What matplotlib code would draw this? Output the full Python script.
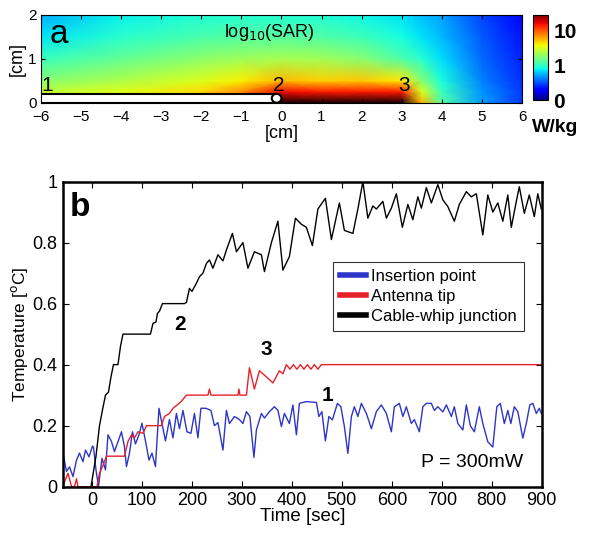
import numpy as np
import matplotlib
matplotlib.use("Agg")
import matplotlib.pyplot as plt
from matplotlib.patches import Rectangle, Ellipse

plt.rcParams['font.family'] = ['Liberation Sans', 'DejaVu Sans']

# ---- panel a: log10(SAR) map, coarse grid ----
map_x = [-6, -4, -2, -1, 0, 1, 2, 3, 3.5, 4, 5, 6]
map_y = [0, 0.25, 0.5, 1.0, 1.5, 2.0]
log_sar = [
    [0.46, 0.54, 0.71, 0.95, 1.56, 1.81, 1.81, 1.68, 0.76, 0.10, -0.32, -0.56],
    [0.42, 0.51, 0.65, 0.85, 1.20, 1.15, 1.15, 1.15, 0.50, 0.02, -0.34, -0.56],
    [0.25, 0.37, 0.50, 0.60, 0.74, 0.68, 0.70, 0.62, 0.25, -0.07, -0.39, -0.59],
    [0.02, 0.15, 0.27, 0.32, 0.35, 0.33, 0.25, 0.08, -0.03, -0.17, -0.44, -0.61],
    [-0.15, -0.02, 0.07, 0.10, 0.11, 0.09, 0.03, -0.08, -0.16, -0.25, -0.48, -0.65],
    [-0.28, -0.12, -0.05, -0.04, -0.04, -0.05, -0.10, -0.16, -0.24, -0.31, -0.53, -0.68],
]
cbar_ticks = [-1, 0, 1]
cbar_labels = ['0', '1', '10']

# ---- panel b: temperature traces ----
black_t = [-2, 8, 15, 22, 27, 33, 38, 43, 52, 57,
           62, 70, 85, 100, 117, 122, 128, 131, 135, 141,
           160, 185, 189, 195, 200, 209, 215, 222, 229, 235,
           242, 252, 262, 269, 281, 289, 302, 312, 325, 339,
           345, 359, 372, 382, 395, 407, 419, 429, 441, 452,
           467, 479, 495, 505, 522, 532, 542, 552, 562, 569,
           582, 589, 599, 609, 621, 632, 642, 652, 659, 669,
           679, 692, 702, 712, 725, 735, 749, 759, 769, 782,
           792, 802, 812, 822, 832, 839, 849, 855, 865, 875,
           885, 892, 899]
black_v = [0.0, 0.10, 0.20, 0.26, 0.30, 0.31, 0.36, 0.40, 0.40, 0.46,
           0.50, 0.50, 0.50, 0.50, 0.50, 0.535, 0.54, 0.568, 0.575, 0.60,
           0.60, 0.60, 0.604, 0.65, 0.64, 0.667, 0.688, 0.70, 0.732, 0.743,
           0.716, 0.76, 0.74, 0.776, 0.83, 0.77, 0.80, 0.716, 0.77, 0.76,
           0.705, 0.80, 0.87, 0.71, 0.754, 0.88, 0.86, 0.85, 0.79, 0.91,
           0.945, 0.81, 0.93, 0.84, 0.83, 0.91, 1.0, 0.88, 0.92, 0.91,
           0.935, 0.88, 0.913, 0.96, 0.85, 0.925, 0.875, 0.95, 0.913, 0.98,
           0.93, 0.99, 0.94, 0.918, 0.87, 0.925, 0.967, 0.95, 0.96, 0.825,
           0.956, 0.90, 0.93, 0.87, 0.956, 0.85, 0.935, 0.983, 0.896, 0.956,
           0.885, 0.96, 0.91]

red_t = [-58, -55, -48, -41, -35, -31, -28, 10, 15, 22,
         29, 65, 72, 79, 85, 92, 102, 109, 139, 145,
         155, 162, 172, 179, 189, 232, 235, 238, 292, 294,
         296, 309, 315, 325, 335, 349, 362, 375, 382, 389,
         396, 403, 410, 417, 424, 431, 438, 445, 452, 459,
         466, 900]
red_v = [0.0, 0.016, 0.044, 0.0, 0.0, 0.026, 0.0, 0.0, 0.044, 0.07,
         0.10, 0.10, 0.148, 0.17, 0.16, 0.18, 0.175, 0.20, 0.20, 0.23,
         0.24, 0.257, 0.27, 0.28, 0.30, 0.30, 0.32, 0.30, 0.30, 0.32,
         0.30, 0.30, 0.39, 0.32, 0.38, 0.36, 0.34, 0.38, 0.37, 0.40,
         0.385, 0.40, 0.385, 0.40, 0.385, 0.40, 0.385, 0.40, 0.385, 0.40,
         0.40, 0.40]

blue_t = [-58, -51, -45, -38, -31, -25, -18, -13, -6, 1,
          3, 8, 13, 20, 27, 32, 39, 45, 52, 59,
          65, 69, 75, 81, 87, 94, 100, 107, 114, 120,
          127, 134, 140, 147, 155, 162, 169, 175, 182, 190,
          198, 205, 212, 218, 228, 238, 245, 252, 262, 269,
          275, 285, 295, 302, 309, 316, 324, 329, 339, 345,
          355, 365, 372, 379, 385, 395, 402, 409, 415, 429,
          449, 454, 460, 467, 474, 481, 491, 498, 505, 512,
          519, 525, 532, 539, 549, 559, 569, 579, 589, 599,
          605, 615, 622, 629, 639, 645, 655, 662, 669, 679,
          685, 692, 702, 709, 719, 725, 732, 742, 749, 757,
          765, 775, 782, 792, 802, 810, 817, 825, 832, 838,
          845, 852, 862, 869, 876, 882, 889, 895, 899]
blue_v = [0.11, 0.05, 0.065, 0.033, 0.087, 0.11, 0.082, 0.12, 0.098, 0.133,
          0.13, 0.055, 0.0, 0.093, 0.055, 0.17, 0.148, 0.115, 0.148, 0.18,
          0.13, 0.066, 0.11, 0.18, 0.14, 0.17, 0.208, 0.15, 0.087, 0.11,
          0.066, 0.257, 0.208, 0.15, 0.22, 0.16, 0.24, 0.19, 0.25, 0.18,
          0.175, 0.24, 0.16, 0.257, 0.257, 0.25, 0.20, 0.21, 0.12, 0.25,
          0.207, 0.23, 0.22, 0.207, 0.246, 0.23, 0.096, 0.186, 0.24, 0.225,
          0.246, 0.262, 0.25, 0.197, 0.24, 0.207, 0.268, 0.17, 0.273, 0.279,
          0.276, 0.23, 0.246, 0.15, 0.23, 0.219, 0.273, 0.262, 0.197, 0.109,
          0.23, 0.262, 0.23, 0.273, 0.24, 0.19, 0.246, 0.268, 0.24, 0.18,
          0.262, 0.273, 0.23, 0.262, 0.207, 0.22, 0.18, 0.262, 0.273, 0.273,
          0.25, 0.262, 0.245, 0.268, 0.23, 0.262, 0.207, 0.186, 0.268, 0.20,
          0.18, 0.262, 0.207, 0.147, 0.13, 0.262, 0.273, 0.207, 0.25, 0.207,
          0.262, 0.246, 0.159, 0.207, 0.268, 0.273, 0.24, 0.257, 0.24]

fig = plt.figure(figsize=(6, 5.34), dpi=100)

# ---------------- panel a ----------------
ax1 = fig.add_axes([0.068, 0.8077, 0.802, 0.165])
cmap = plt.get_cmap('jet').copy()
cmap.set_over('#150000')
X, Y = np.meshgrid(map_x, map_y)
mesh = ax1.pcolormesh(X, Y, np.array(log_sar), shading='gouraud',
                      cmap=cmap, vmin=-1, vmax=1.44)
ax1.add_patch(Rectangle((-6, 0), 5.85, 0.2, facecolor='white',
                        edgecolor='black', lw=1.5, zorder=3))
ax1.add_patch(Ellipse((-0.12, 0.1), 0.24, 0.2, facecolor='white',
                      edgecolor='black', lw=1.5, zorder=4))
ax1.set_xlim(-6, 6)
ax1.set_ylim(0, 2)
ax1.set_xticks(range(-6, 7))
ax1.set_yticks([0, 1, 2])
ax1.tick_params(direction='in', top=True, right=True, labelsize=11, length=3)
ax1.tick_params(axis='x', pad=5)
ax1.tick_params(axis='y', pad=3)
ax1.set_ylabel('[cm]', fontsize=13, labelpad=2)
ax1.set_xlabel('[cm]', fontsize=13, labelpad=1)
ax1.text(-5.55, 1.55, 'a', fontsize=24, va='center', ha='center')
ax1.text(-0.3, 1.6, 'log$_{10}$(SAR)', fontsize=13, va='center', ha='center')
ax1.text(-5.85, 0.4, '1', fontsize=15, va='center', ha='center')
ax1.text(-0.07, 0.4, '2', fontsize=15, va='center', ha='center')
ax1.text(3.05, 0.38, '3', fontsize=15, va='center', ha='center')

cax = fig.add_axes([0.888, 0.8127, 0.025, 0.159])
cb = fig.colorbar(mesh, cax=cax, ticks=cbar_ticks)
cb.ax.set_yticklabels(cbar_labels, fontsize=15, fontweight='bold')
cb.ax.tick_params(length=0, pad=4)
cb.outline.set_linewidth(0.8)
fig.text(0.925, 0.762, 'W/kg', fontsize=14, fontweight='bold', ha='center', va='center')

# ---------------- panel b ----------------
ax2 = fig.add_axes([0.105, 0.0886, 0.798, 0.5714])
ax2.plot(blue_t, blue_v, color='#2e35c8', lw=1.0, label='Insertion point')
ax2.plot(red_t, red_v, color='#e8202a', lw=1.0, label='Antenna tip')
ax2.plot(black_t, black_v, color='black', lw=1.0, label='Cable-whip junction')
ax2.set_xlim(-58, 900)
ax2.set_ylim(0, 1)
ax2.set_xticks(range(0, 901, 100))
ax2.set_yticks([0, 0.2, 0.4, 0.6, 0.8, 1])
ax2.set_yticklabels(['0', '0.2', '0.4', '0.6', '0.8', '1'])
ax2.tick_params(direction='in', top=True, right=True, labelsize=13, length=4, pad=4)
for sp in ax2.spines.values():
    sp.set_linewidth(1.8)
ax2.set_xlabel('Time [sec]', fontsize=13.5, labelpad=-1)
ax2.set_ylabel('Temperature [$^{\\rm o}$C]', fontsize=12.5, labelpad=2)

ax2.text(-25, 0.915, 'b', fontsize=24, fontweight='bold', va='center', ha='center')
ax2.text(176, 0.53, '2', fontsize=15, fontweight='bold', va='center', ha='center')
ax2.text(349, 0.45, '3', fontsize=15, fontweight='bold', va='center', ha='center')
ax2.text(472, 0.30, '1', fontsize=15, fontweight='bold', va='center', ha='center')
ax2.text(761, 0.078, 'P = 300mW', fontsize=14, va='center', ha='center')

leg = ax2.legend(loc='upper right', bbox_to_anchor=(0.962, 0.735), fontsize=12,
                 frameon=True, fancybox=False, handlelength=1.6, handletextpad=0.3,
                 borderpad=0.4, labelspacing=0.3, borderaxespad=0)
leg.get_frame().set_edgecolor('black')
leg.get_frame().set_linewidth(0.8)
for line in leg.get_lines():
    line.set_linewidth(4)

fig.savefig('out.png', dpi=100)
